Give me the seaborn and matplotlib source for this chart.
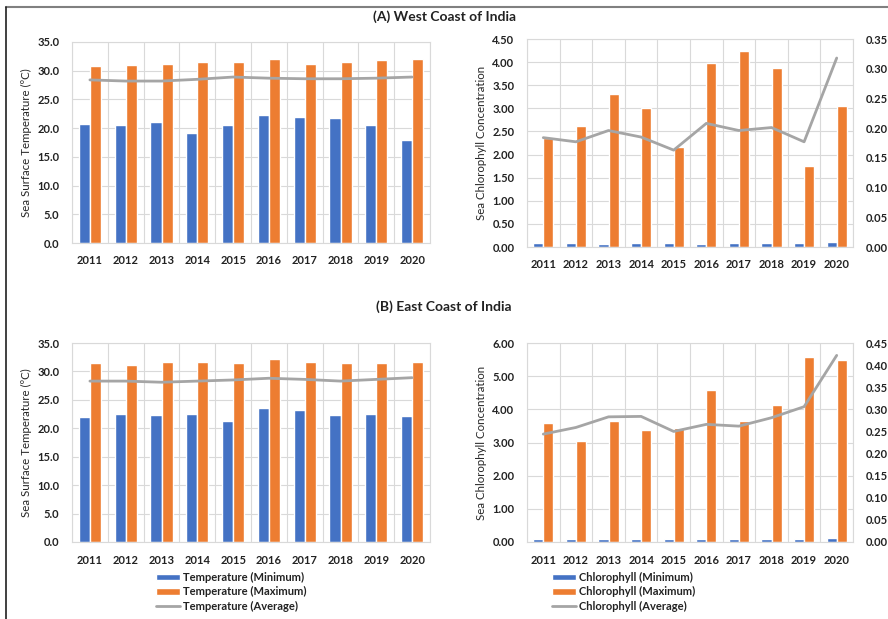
import matplotlib
matplotlib.use("Agg")
import matplotlib.pyplot as plt
import numpy as np
import pandas as pd
import seaborn as sns
from matplotlib.lines import Line2D
from matplotlib.ticker import FormatStrFormatter, MultipleLocator

# Datos
years = ["2011", "2012", "2013", "2014", "2015", "2016", "2017", "2018", "2019", "2020"]

west_temp_min = [20.8, 20.6, 21.1, 19.1, 20.6, 22.3, 22.0, 21.7, 20.6, 18.0]
west_temp_max = [30.8, 31.0, 31.1, 31.5, 31.6, 32.1, 31.1, 31.6, 31.9, 32.1]
west_temp_avg = [28.4, 28.2, 28.2, 28.5, 28.9, 28.7, 28.6, 28.6, 28.7, 28.9]

west_chl_min = [0.08, 0.08, 0.07, 0.08, 0.08, 0.07, 0.08, 0.08, 0.08, 0.10]
west_chl_max = [2.35, 2.62, 3.31, 3.01, 2.17, 3.98, 4.23, 3.87, 1.76, 3.05]
west_chl_avg = [0.184, 0.177, 0.196, 0.185, 0.163, 0.208, 0.196, 0.201, 0.177, 0.318]

east_temp_min = [22.0, 22.5, 22.3, 22.5, 21.2, 23.5, 23.3, 22.3, 22.6, 22.1]
east_temp_max = [31.4, 31.2, 31.6, 31.7, 31.4, 32.1, 31.6, 31.5, 31.5, 31.7]
east_temp_avg = [28.3, 28.3, 28.1, 28.3, 28.5, 28.8, 28.6, 28.3, 28.6, 28.9]

east_chl_min = [0.08, 0.08, 0.08, 0.08, 0.08, 0.08, 0.08, 0.08, 0.08, 0.13]
east_chl_max = [3.58, 3.05, 3.66, 3.38, 3.43, 4.57, 3.64, 4.12, 5.57, 5.49]
east_chl_avg = [0.244, 0.259, 0.283, 0.284, 0.250, 0.266, 0.262, 0.281, 0.306, 0.422]

temp_labels = ["Temperature (Minimum)", "Temperature (Maximum)", "Temperature (Average)"]
chl_labels = ["Chlorophyll (Minimum)", "Chlorophyll (Maximum)", "Chlorophyll (Average)"]

BLUE = "#4472C4"
ORANGE = "#ED7D31"
GREY = "#A5A5A5"
GRID = "#D9D9D9"

sns.set_style("white")
plt.rcParams["font.family"] = ["Lato", "DejaVu Sans"]
plt.rcParams["font.weight"] = "bold"
plt.rcParams["text.color"] = "#222222"
plt.rcParams["xtick.color"] = "#222222"
plt.rcParams["ytick.color"] = "#222222"


def style_axis(ax):
    ax.set_xlim(-0.5, len(years) - 0.5)
    ax.xaxis.set_minor_locator(MultipleLocator(1, offset=0.5))
    ax.grid(True, which="minor", axis="x", color=GRID, lw=0.8)
    ax.grid(True, which="major", axis="y", color=GRID, lw=0.8)
    ax.set_axisbelow(True)
    for s in ax.spines.values():
        s.set_color(GRID)
        s.set_linewidth(0.8)
    ax.tick_params(axis="both", which="both", length=0, labelsize=8, pad=9)
    ax.set_xlabel("")


def draw_bars(ax, mins, maxs, labels):
    df = pd.DataFrame({
        "year": years * 2,
        "value": mins + maxs,
        "serie": [labels[0]] * len(years) + [labels[1]] * len(years),
    })
    sns.barplot(data=df, x="year", y="value", hue="serie", ax=ax,
                palette=[BLUE, ORANGE], width=0.62, saturation=1, legend=True)


def draw_line(ax, avg, label):
    sns.pointplot(x=years, y=avg, ax=ax, color=GREY, marker="", linewidth=2,
                  label=label, errorbar=None)


def temp_panel(ax, mins, maxs, avg):
    draw_bars(ax, mins, maxs, temp_labels)
    draw_line(ax, avg, temp_labels[2])
    ax.set_ylim(0, 35)
    ax.yaxis.set_major_locator(MultipleLocator(5))
    ax.yaxis.set_major_formatter(FormatStrFormatter("%.1f"))
    ax.set_ylabel("Sea Surface Temperature (ºC)", fontsize=8.3, fontweight="normal")
    style_axis(ax)


def chl_panel(ax, mins, maxs, avg, ymax, ystep, ymax2):
    draw_bars(ax, mins, maxs, chl_labels)
    ax2 = ax.twinx()
    draw_line(ax2, avg, chl_labels[2])
    ax.set_ylim(0, ymax)
    ax.yaxis.set_major_locator(MultipleLocator(ystep))
    ax.yaxis.set_major_formatter(FormatStrFormatter("%.2f"))
    ax.set_ylabel("Sea Chlorophyll Concentration", fontsize=8.3, fontweight="normal")
    ax2.set_ylim(0, ymax2)
    ax2.yaxis.set_major_locator(MultipleLocator(0.05))
    ax2.yaxis.set_major_formatter(FormatStrFormatter("%.2f"))
    style_axis(ax)
    ax2.set_xlim(-0.5, len(years) - 0.5)
    ax2.grid(False)
    for s in ax2.spines.values():
        s.set_visible(False)
    ax2.tick_params(axis="y", length=0, labelsize=8, pad=9)
    ax2.set_ylabel("")
    return ax2


W, H = 888, 619
fig = plt.figure(figsize=(W / 100, H / 100), dpi=100)


def box(x0, y0, x1, y1):
    return [x0 / W, 1 - y1 / H, (x1 - x0) / W, (y1 - y0) / H]


ax_tl = fig.add_axes(box(72, 42, 430, 243))
ax_tr = fig.add_axes(box(527, 39, 853, 247))
ax_bl = fig.add_axes(box(72, 343, 430, 542))
ax_br = fig.add_axes(box(527, 343, 853, 542))

temp_panel(ax_tl, west_temp_min, west_temp_max, west_temp_avg)
tr2 = chl_panel(ax_tr, west_chl_min, west_chl_max, west_chl_avg, 4.5, 0.5, 0.35)
temp_panel(ax_bl, east_temp_min, east_temp_max, east_temp_avg)
br2 = chl_panel(ax_br, east_chl_min, east_chl_max, east_chl_avg, 6.0, 1.0, 0.45)

# Leyendas comunes debajo de los paneles inferiores
h_t, l_t = ax_bl.get_legend_handles_labels()
h_c, l_c = ax_br.get_legend_handles_labels()
h_c2, l_c2 = br2.get_legend_handles_labels()
for a in [ax_tl, ax_tr, ax_bl, ax_br, tr2, br2]:
    if a.get_legend() is not None:
        a.get_legend().remove()

leg_kw = dict(frameon=False, fontsize=8, handlelength=2.2, handleheight=0.5,
              handletextpad=0.2, labelspacing=0.3, borderaxespad=0, borderpad=0,
              loc="upper left")
leg1 = fig.legend(h_t, l_t, bbox_to_anchor=(156 / W, 1 - 572 / H), **leg_kw)
leg2 = fig.legend(h_c + h_c2, l_c + l_c2, bbox_to_anchor=(552 / W, 1 - 572 / H), **leg_kw)

fig.text(0.5, 1 - 17 / H, "(A) West Coast of India", ha="center", va="center",
         fontsize=10, fontweight="bold")
fig.text(0.5, 1 - 307 / H, "(B) East Coast of India", ha="center", va="center",
         fontsize=10, fontweight="bold")

# Marco de la figura
fig.add_artist(Line2D([6 / W, 1], [1 - 7 / H, 1 - 7 / H], color="#808080", lw=1.5))
fig.add_artist(Line2D([6 / W, 6 / W], [0, 1 - 7 / H], color="#202020", lw=1.2))

fig.savefig("out.png", dpi=100)
